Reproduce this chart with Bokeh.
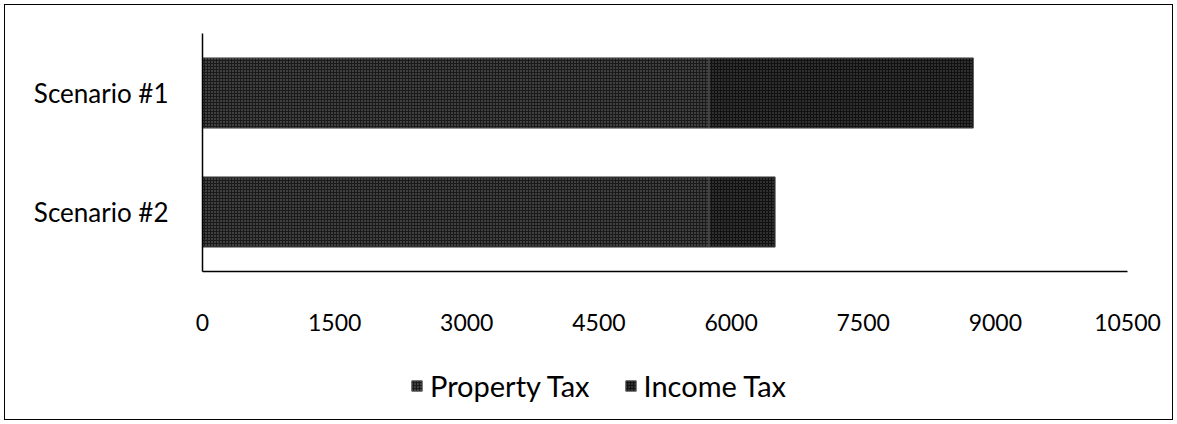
from bokeh.plotting import figure
from bokeh.models import ColumnDataSource, FixedTicker, Legend, LegendItem, Range1d
from bokeh.embed import file_html
from bokeh.resources import INLINE

# ---- data ----
categories = ["Scenario #1", "Scenario #2"]
property_tax = [5750, 5750]
income_tax = [3000, 750]
x_ticks = [0, 1500, 3000, 4500, 6000, 7500, 9000, 10500]
x_max = 10500
series_names = ["Property Tax", "Income Tax"]

FONT = "Lato"

# each category occupies a band of 2 units on a numeric y scale (top category first)
n = len(categories)
y_pos = [2 * (n - 1 - i) + 1 for i in range(n)]
totals = [a + b for a, b in zip(property_tax, income_tax)]
src = ColumnDataSource(dict(
    y=y_pos,
    prop_left=[0] * n,
    prop_right=property_tax,
    inc_left=property_tax,
    inc_right=totals,
))

# layout (pixels): plot area 202..1127 horizontally, 33..271 vertically, canvas 1177x424
W, H = 1177, 424
AX_L, AX_R, AX_T, AX_B = 202, 1127, 33, 271
xs = x_max / (AX_R - AX_L)            # data units per pixel (x)
ys = (2 * n) / (AX_B - AX_T)          # data units per pixel (y)

p = figure(
    x_range=Range1d(-AX_L * xs, x_max + (W - AX_R) * xs),
    y_range=Range1d(-(H - AX_B) * ys, 2 * n + AX_T * ys),
    frame_width=W, frame_height=H,
    min_border=0,
    output_backend="svg", toolbar_location=None,
)
p.border_fill_alpha = 0
p.background_fill_alpha = 0
p.styles = {"outline": "1.5px solid #000", "outline-offset": "-5px", "background-color": "white"}

r1 = p.hbar(y="y", left="prop_left", right="prop_right", height=1.18, source=src,
            fill_color="#1a1a1a", line_color="#555555", line_width=1,
            hatch_pattern="dot", hatch_color="#777777", hatch_scale=3, hatch_weight=1)
r2 = p.hbar(y="y", left="inc_left", right="inc_right", height=1.18, source=src,
            fill_color="#111111", line_color="#555555", line_width=1,
            hatch_pattern="dot", hatch_color="#5c5c5c", hatch_scale=3, hatch_weight=1)

p.xgrid.visible = False
p.ygrid.visible = False
p.outline_line_color = None

# value axis, pinned to the bottom of the category area
p.xaxis.fixed_location = 0
p.xaxis.bounds = (0, x_max)
p.xaxis.ticker = FixedTicker(ticks=x_ticks)
p.xaxis.major_tick_line_color = None
p.xaxis.minor_tick_line_color = None
p.xaxis.axis_line_color = "black"
p.xaxis.axis_line_width = 1.5
p.xaxis.major_label_standoff = 36
p.xaxis.major_label_text_font = FONT
p.xaxis.major_label_text_font_size = "23px"
p.xaxis.major_label_text_color = "black"

# category axis, pinned at x = 0
p.yaxis.fixed_location = 0
p.yaxis.ticker = FixedTicker(ticks=y_pos)
p.yaxis.major_label_overrides = {yv: c for yv, c in zip(y_pos, categories)}
p.yaxis.bounds = (0, 2 * n)
p.yaxis.major_tick_line_color = None
p.yaxis.minor_tick_line_color = None
p.yaxis.axis_line_color = "black"
p.yaxis.axis_line_width = 1.5
p.yaxis.major_label_standoff = 28
p.yaxis.major_label_text_font = FONT
p.yaxis.major_label_text_font_size = "26px"
p.yaxis.major_label_text_color = "black"

legend = Legend(
    items=[LegendItem(label=series_names[0], renderers=[r1]),
           LegendItem(label=series_names[1], renderers=[r2])],
    orientation="horizontal",
    location=(410, 21),
    margin=0,
    label_text_font=FONT,
    label_text_font_size="29px",
    label_text_color="black",
    glyph_width=13, glyph_height=13,
    label_standoff=7,
    spacing=34,
    padding=4,
    border_line_color=None,
    background_fill_alpha=0,
)
p.add_layout(legend, "center")

open("out.html", "w").write(file_html(p, INLINE))
